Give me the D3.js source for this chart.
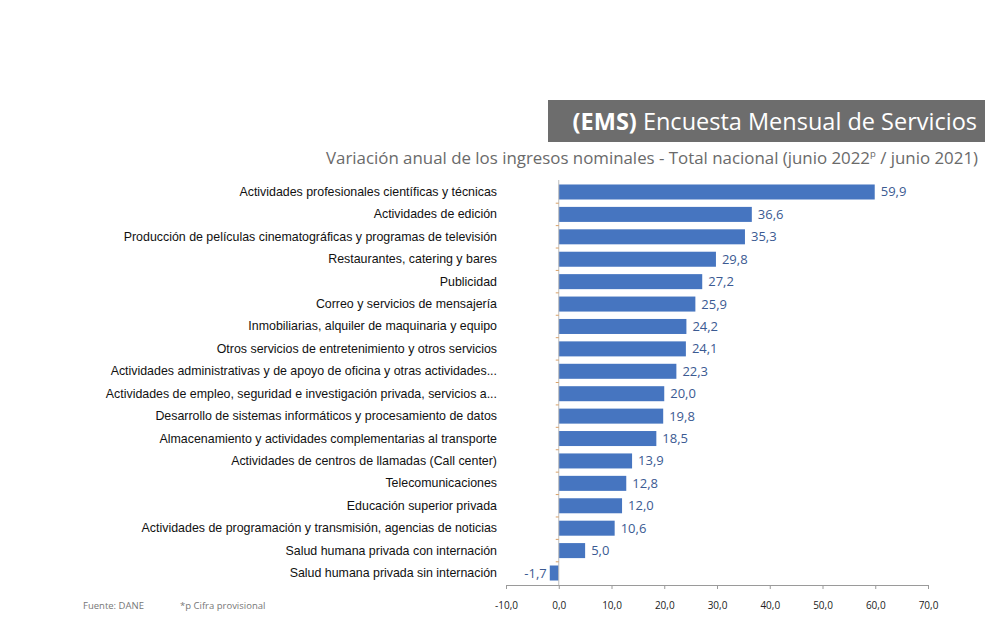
<!DOCTYPE html>
<html><head><meta charset="utf-8">
<script src="https://cdn.jsdelivr.net/npm/d3@7"></script>
<style>body{margin:0;background:#fff}svg{display:block}</style>
</head><body>
<svg id="c" width="1002" height="634"></svg>
<script>
const categories = [
 "Actividades profesionales científicas y técnicas",
 "Actividades de edición",
 "Producción de películas cinematográficas y programas de televisión",
 "Restaurantes, catering y bares",
 "Publicidad",
 "Correo y servicios de mensajería",
 "Inmobiliarias, alquiler de maquinaria y equipo",
 "Otros servicios de entretenimiento y otros servicios",
 "Actividades administrativas y de apoyo de oficina y otras actividades...",
 "Actividades de empleo, seguridad e investigación privada, servicios a...",
 "Desarrollo de sistemas informáticos y procesamiento de datos",
 "Almacenamiento y actividades complementarias al transporte",
 "Actividades de centros de llamadas (Call center)",
 "Telecomunicaciones",
 "Educación superior privada",
 "Actividades de programación y transmisión,  agencias de noticias",
 "Salud humana privada con internación",
 "Salud humana privada sin internación"
];
const values = [59.9,36.6,35.3,29.8,27.2,25.9,24.2,24.1,22.3,20.0,19.8,18.5,13.9,12.8,12.0,10.6,5.0,-1.7];
const xTicks = [-10,0,10,20,30,40,50,60,70];
const titleBold = "(EMS)";
const titleRest = " Encuesta Mensual de Servicios";
const subtitle = "Variación anual de los ingresos nominales - Total nacional  (junio 2022";
const subtitleEnd = " / junio 2021)";
const footSource = "Fuente: DANE";
const footNote = "*p Cifra provisional";

const svg = d3.select("#c");
const fmt = v => d3.format(".1f")(v).replace(".", ",").replace("\u2212", "-");
const x = d3.scaleLinear().domain([-10,70]).range([506,928]);
const y = d3.scaleBand().domain(categories).range([180,585]).paddingInner(0.33).paddingOuter(0.2);

// title box
svg.append("rect").attr("x",548).attr("y",100).attr("width",437).attr("height",42).attr("fill","#6d6d6d");
const t = svg.append("text").attr("x",977).attr("y",130).attr("text-anchor","end")
  .attr("font-family","Open Sans, sans-serif").attr("font-size",23.5).attr("fill","#fff");
t.append("tspan").attr("font-weight","bold").text(titleBold);
t.append("tspan").text(titleRest);

const st = svg.append("text").attr("x",978).attr("y",164).attr("text-anchor","end")
  .attr("font-family","Open Sans, sans-serif").attr("font-size",16).attr("fill","#6a6a6a")
  .attr("textLength",652).attr("lengthAdjust","spacingAndGlyphs");
st.append("tspan").text(subtitle);
st.append("tspan").attr("font-size",9).attr("dy",-7).text("p");
st.append("tspan").attr("dy",7).text(subtitleEnd);

// bars
svg.selectAll("rect.bar").data(values).join("rect").attr("class","bar")
  .attr("x",d=>x(Math.min(0,d))).attr("width",d=>Math.abs(x(d)-x(0)))
  .attr("y",(d,i)=>y(categories[i])).attr("height",y.bandwidth())
  .attr("fill","#4675c0");

// value labels
svg.selectAll("text.val").data(values).join("text").attr("class","val")
  .attr("x",d=>d>=0? x(d)+6 : x(d)-3)
  .attr("y",(d,i)=>y(categories[i])+y.bandwidth()/2+4.5)
  .attr("text-anchor",d=>d>=0?"start":"end")
  .attr("font-family","Open Sans, sans-serif").attr("font-size",13).attr("fill","#3b5a92")
  .text(d=>fmt(d));

// category labels
svg.selectAll("text.cat").data(categories).join("text").attr("class","cat")
  .attr("x",497).attr("y",d=>y(d)+y.bandwidth()/2+4)
  .attr("text-anchor","end").attr("font-family","Liberation Sans, Arial, sans-serif")
  .attr("font-size",12.4).attr("fill","#111").text(d=>d);

// vertical axis at 0
const zero = x(0);
svg.append("line").attr("x1",zero).attr("x2",zero).attr("y1",180).attr("y2",585).attr("stroke","#bdbdbd");
svg.selectAll("line.ytk").data(categories.slice(1)).join("line").attr("class","ytk")
  .attr("x1",zero-3).attr("x2",zero).attr("y1",d=>y(d)-y.step()*y.paddingInner()/2).attr("y2",d=>y(d)-y.step()*y.paddingInner()/2)
  .attr("stroke","#d9a066");

// x axis
const gx = svg.append("g").attr("transform","translate(0,585)")
  .call(d3.axisBottom(x).tickValues(xTicks).tickSize(4).tickFormat(fmt));
gx.select(".domain").attr("stroke","#9a9a9a");
gx.selectAll(".tick line").attr("stroke","#9a9a9a");
gx.selectAll(".tick text").attr("font-family","Open Sans, sans-serif").attr("font-size",10)
  .attr("fill","#222").attr("y",17).attr("dy","0.71em");

// footer
svg.append("text").attr("x",83).attr("y",609).attr("font-family","Open Sans, sans-serif")
  .attr("font-size",9.5).attr("fill","#777").text(footSource);
svg.append("text").attr("x",180).attr("y",609).attr("font-family","Open Sans, sans-serif")
  .attr("font-size",9.5).attr("fill","#777").text(footNote);
</script>
</body></html>
